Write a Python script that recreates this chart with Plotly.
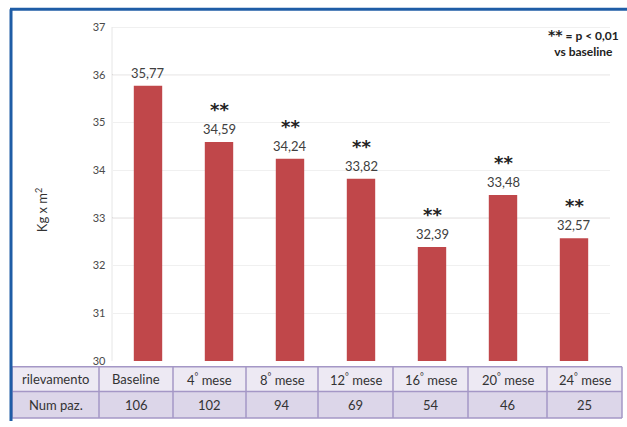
import plotly.graph_objects as go

# BMI over follow-up visits
categories = ["Baseline", "4° mese", "8° mese", "12° mese", "16° mese", "20° mese", "24° mese"]
table_labels = ["Baseline", "4<sup>°</sup> mese", "8<sup>°</sup> mese", "12<sup>°</sup> mese",
                "16<sup>°</sup> mese", "20<sup>°</sup> mese", "24<sup>°</sup> mese"]
bmi_values = [35.77, 34.59, 34.24, 33.82, 32.39, 33.48, 32.57]
significant = [False, True, True, True, True, True, True]
num_patients = [106, 102, 94, 69, 54, 46, 25]
y_ticks = [30, 31, 32, 33, 34, 35, 36, 37]
row_titles = ["rilevamento", "Num paz."]

FONT = "Lato, 'Open Sans', sans-serif"
STAR_FONT = "'DejaVu Sans', sans-serif"
BAR_COLOR = "#C0474A"

W, H = 627, 427
ML, MR, MT, MB = 12, 5, 27, 2
PW, PH = W - ML - MR, H - MT - MB


def px_x(px):
    return (px - ML) / PW


def px_y(py):
    return (H - MB - py) / PH


def it_num(v):
    return f"{v:.2f}".replace(".", ",")


fig = go.Figure()

fig.add_trace(go.Bar(
    x=categories,
    y=bmi_values,
    marker=dict(color=BAR_COLOR, line=dict(width=0)),
    width=0.4,
    hoverinfo="skip",
))

annotations = []
shapes = []

for cat, v, sig in zip(categories, bmi_values, significant):
    annotations.append(dict(
        x=cat, y=v, xref="x", yref="y", text=it_num(v), showarrow=False,
        yanchor="bottom", yshift=3,
        font=dict(family=FONT, size=13, color="#404040"),
    ))
    if sig:
        annotations.append(dict(
            x=cat, y=v, xref="x", yref="y", text="<b>**</b>", showarrow=False,
            yanchor="bottom", yshift=20,
            font=dict(family=STAR_FONT, size=18, color="#222222"),
        ))

annotations.append(dict(
    x=px_x(621), y=px_y(25), xref="paper", yref="paper",
    xanchor="right", yanchor="top", align="center", showarrow=False,
    text="<b><span style='font-family:DejaVu Sans;font-size:14px'>**</span> = p &lt; 0,01</b><br><b>vs baseline</b>",
    font=dict(family=FONT, size=12, color="#222222"),
))

annotations.append(dict(
    x=px_x(41), y=px_y(213), xref="paper", yref="paper",
    text="Kg x m<sup>2</sup>", textangle=-90, showarrow=False,
    xanchor="center", yanchor="middle",
    font=dict(family=FONT, size=13, color="#333333"),
))

# Bottom table drawn from cells: visit labels and number of patients
col_edges = [12, 99, 173, 246, 318, 393, 468, 547, 622]
row_edges = [372, 397, 424]
row_fills = ["#EDE9F3", "#DCD6E9"]
grid_color = "#A497C6"

for r in range(2):
    shapes.append(dict(type="rect", xref="paper", yref="paper",
                       x0=px_x(col_edges[0]), x1=px_x(col_edges[-1]),
                       y0=px_y(row_edges[r]), y1=px_y(row_edges[r + 1]),
                       fillcolor=row_fills[r], line=dict(width=0), layer="below"))
for ry in row_edges:
    shapes.append(dict(type="line", xref="paper", yref="paper",
                       x0=px_x(col_edges[0]), x1=px_x(col_edges[-1]),
                       y0=px_y(ry), y1=px_y(ry),
                       line=dict(color=grid_color, width=1.5)))
for cx in col_edges:
    shapes.append(dict(type="line", xref="paper", yref="paper",
                       x0=px_x(cx), x1=px_x(cx),
                       y0=px_y(row_edges[0]), y1=px_y(row_edges[-1]),
                       line=dict(color=grid_color, width=1.5)))

table_rows = [[row_titles[0]] + table_labels,
              [row_titles[1]] + [str(n) for n in num_patients]]
for r, row in enumerate(table_rows):
    yc = (row_edges[r] + row_edges[r + 1]) / 2
    for c, txt in enumerate(row):
        xc = (col_edges[c] + col_edges[c + 1]) / 2
        annotations.append(dict(
            x=px_x(xc), y=px_y(yc), xref="paper", yref="paper",
            text=txt, showarrow=False, xanchor="center", yanchor="middle",
            font=dict(family=FONT, size=13, color="#333333"),
        ))

# outer blue frame
shapes.append(dict(type="line", xref="paper", yref="paper",
                   x0=px_x(10), x1=px_x(627), y0=px_y(9), y1=px_y(9),
                   line=dict(color="#1F5DA6", width=3)))
shapes.append(dict(type="line", xref="paper", yref="paper",
                   x0=px_x(11), x1=px_x(11), y0=px_y(9), y1=px_y(427),
                   line=dict(color="#1F5DA6", width=3)))
# plot frame top/left
shapes.append(dict(type="line", xref="paper", yref="y",
                   x0=px_x(112), x1=px_x(610), y0=37, y1=37,
                   line=dict(color="#E2E2E2", width=1)))
shapes.append(dict(type="line", xref="paper", yref="y",
                   x0=px_x(112), x1=px_x(112), y0=30, y1=37,
                   line=dict(color="#E6E6E6", width=1)))
for level in (36, 33):
    shapes.append(dict(type="line", xref="paper", yref="y",
                       x0=px_x(112), x1=px_x(610), y0=level, y1=level,
                       line=dict(color="#C8C0C0", width=1), layer="below"))

fig.update_layout(
    width=W, height=H,
    margin=dict(l=ML, r=MR, t=MT, b=MB),
    paper_bgcolor="white", plot_bgcolor="rgba(0,0,0,0)",
    showlegend=False,
    bargap=0.6,
    xaxis=dict(
        domain=[px_x(112.5), px_x(609.5)],
        anchor="y",
        showticklabels=False, ticks="",
        showgrid=False, zeroline=False, showline=False,
    ),
    yaxis=dict(
        domain=[px_y(366), 1],
        anchor="x",
        range=[30, 37],
        tickvals=y_ticks,
        ticktext=[str(t) for t in y_ticks],
        tickfont=dict(family=FONT, size=11, color="#4A4A4A"),
        ticks="", ticklabelstandoff=6,
        showgrid=True, gridcolor="#F0F0F0", gridwidth=1,
        zeroline=False, showline=False,
    ),
    annotations=annotations,
    shapes=shapes,
)

fig.write_html("out.html")
